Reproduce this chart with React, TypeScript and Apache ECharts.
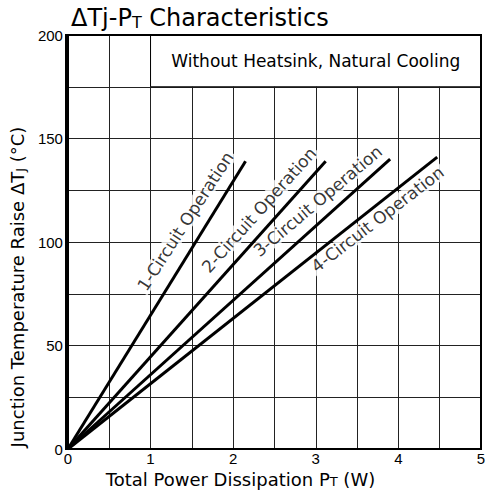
import React, { useEffect, useRef } from "react";
import * as echarts from "echarts";

const circuitNames = ["1-Circuit Operation", "2-Circuit Operation", "3-Circuit Operation", "4-Circuit Operation"];
// end points of each straight line (W, °C); all start at origin
const endPower = [2.15, 3.12, 3.9, 4.47];
const endTemp = [139, 139, 140, 141];
// label anchor points (W, °C) and rotation (deg)
const labelPower = [1.422, 2.313, 3.024, 3.747];
const labelTemp = [110, 115.5, 119.8, 111];
const labelRotate = [57, 48, 40, 37.5];
const noteText = "Without Heatsink, Natural Cooling";
const xTicks = [0, 1, 2, 3, 4, 5];
const yTicks = [0, 50, 100, 150, 200];

const FONT = "DejaVu Sans, Verdana, sans-serif";
const NUM_FONT = "Liberation Sans Narrow, Arial Narrow, Liberation Sans, sans-serif";

export default function App() {
  const ref = useRef<HTMLDivElement>(null);
  useEffect(() => {
    const chart = echarts.init(ref.current!, null, { renderer: "svg" });
    const lineSeries = circuitNames.map((n, i) => ({
      type: "line",
      name: n,
      data: [[0, 0], [endPower[i], endTemp[i]]],
      showSymbol: false,
      symbol: "none",
      z: 5,
      lineStyle: { color: "#000", width: 3 },
    }));
    const labelSeries = circuitNames.map((n, i) => ({
      type: "scatter",
      name: n + " label",
      data: [[labelPower[i], labelTemp[i]]],
      symbolSize: 0,
      z: 3,
      label: {
        show: true,
        position: "inside",
        formatter: n,
        rotate: labelRotate[i],
        color: "#000",
        fontFamily: FONT,
        fontSize: 17,
        backgroundColor: "#fff",
        padding: [0, 2],
      },
    }));
    chart.setOption({
      animation: false,
      title: {
        text: "ΔTj-P{s|T} Characteristics",
        left: 66,
        top: 1,
        textStyle: {
          fontFamily: FONT,
          fontSize: 24,
          fontWeight: "normal",
          color: "#000",
          rich: { s: { fontFamily: FONT, fontSize: 16, color: "#000", verticalAlign: "bottom", padding: [7, 0, 0, 0] } },
        },
      },
      grid: { left: 66, right: 13, top: 35, bottom: 50 },
      xAxis: {
        type: "value",
        min: 0,
        max: 5,
        interval: 0.5,
        name: "Total Power Dissipation P{s|T} (W)",
        nameLocation: "middle",
        nameGap: 19,
        nameTextStyle: {
          fontFamily: FONT,
          fontSize: 18,
          color: "#000",
          padding: [0, 68, 0, 0],
          rich: { s: { fontFamily: FONT, fontSize: 13, color: "#000", padding: [4, 0, 0, 0] } },
        },
        axisLine: { show: true, lineStyle: { color: "#000", width: 2 } },
        axisTick: { show: false },
        axisLabel: {
          color: "#000",
          fontFamily: NUM_FONT,
          fontSize: 15,
          margin: 2,
          formatter: (v: number) => (xTicks.includes(v) ? String(v) : ""),
        },
        splitLine: { show: true, lineStyle: { color: "#222", width: 1 } },
      },
      yAxis: {
        type: "value",
        min: 0,
        max: 200,
        interval: 25,
        name: "Junction Temperature Raise ΔT{s|J} (°C)",
        nameLocation: "middle",
        nameGap: 32,
        nameTextStyle: {
          fontFamily: FONT,
          fontSize: 18,
          color: "#000",
          padding: [0, 90, 0, 0],
          rich: { s: { fontFamily: FONT, fontSize: 13, color: "#000", padding: [7, 0, 0, 0] } },
        },
        axisLine: { show: true, lineStyle: { color: "#000", width: 2 } },
        axisTick: { show: false },
        axisLabel: {
          color: "#000",
          fontFamily: NUM_FONT,
          fontSize: 15,
          margin: 5,
          formatter: (v: number) => (yTicks.includes(v) ? String(v) : ""),
        },
        splitLine: { show: true, lineStyle: { color: "#222", width: 1 } },
      },
      graphic: [
        {
          type: "rect",
          shape: { x: 66, y: 35, width: 415, height: 414 },
          style: { fill: "none", stroke: "#000", lineWidth: 2 },
          z: 10,
          silent: true,
        },
      ],
      series: [
        {
          type: "line",
          name: "note",
          data: [],
          z: 2,
          markArea: {
            silent: true,
            itemStyle: { color: "#fff", borderColor: "#000", borderWidth: 1 },
            label: {
              show: true,
              position: "inside",
              color: "#000",
              fontFamily: FONT,
              fontSize: 17,
              formatter: noteText,
            },
            data: [[{ xAxis: 1, yAxis: 175 }, { xAxis: 5, yAxis: 200 }]],
          },
        },
        ...labelSeries,
        ...lineSeries,
      ],
    });
    return () => chart.dispose();
  }, []);
  return <div ref={ref} style={{ width: 494, height: 499, position: "absolute", left: 0, top: 0, background: "#fff" }} />;
}
